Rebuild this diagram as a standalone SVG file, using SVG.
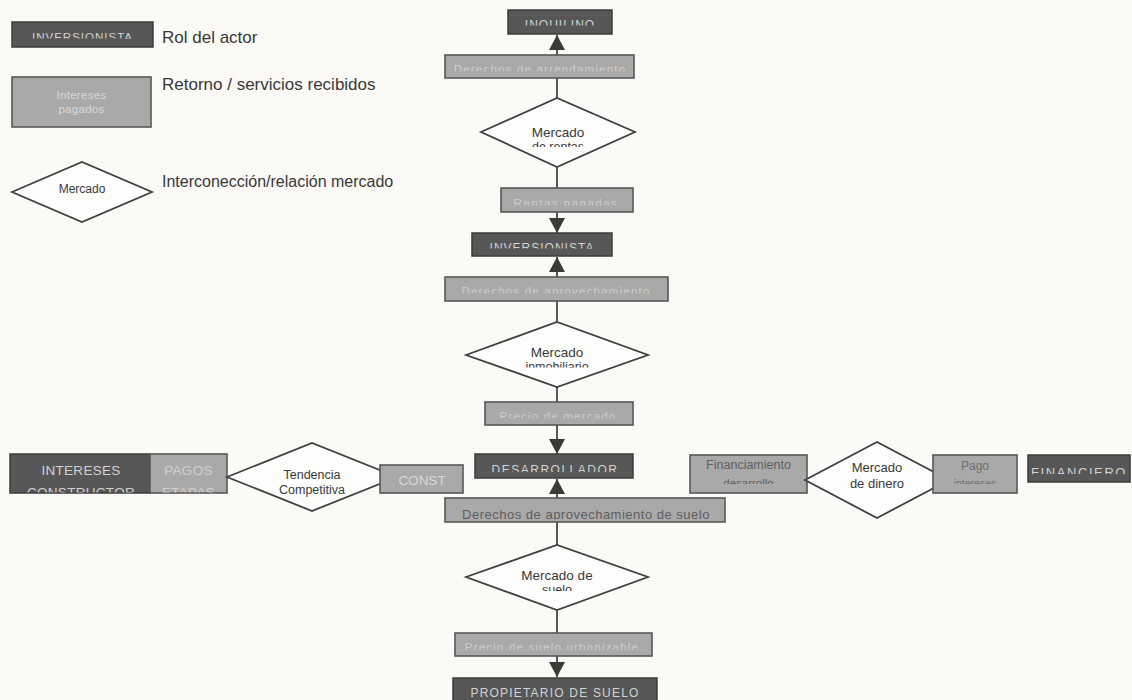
<svg xmlns="http://www.w3.org/2000/svg" width="1132" height="700" viewBox="0 0 1132 700">
<style>
.bg{fill:#fbfaf6}
.dark{fill:#575757;stroke:#3c3c3c;stroke-width:1.5}
.light{fill:#a9a9a9;stroke:#585858;stroke-width:1.6}
.mkt{fill:#fdfdfb;stroke:#404040;stroke-width:1.8}
.conn{stroke:#3a3a3a;stroke-width:1.7;fill:none}
text{font-family:"Liberation Sans",Arial,sans-serif;text-anchor:middle}
.dt{font-size:12px;fill:#d2d2d2;letter-spacing:1px}
.lt{font-size:11.5px;fill:#cdcdcd;letter-spacing:1.2px}
.gt{font-size:12.5px;fill:#606060}
.mt{font-size:13px;fill:#3a3a3a}
.leg{font-size:17px;fill:#383838;text-anchor:start}
</style>
<defs>
<marker id="ah" markerUnits="userSpaceOnUse" markerWidth="17" markerHeight="16" refX="15" refY="8" orient="auto">
<path d="M0,0 L15,8 L0,16 z" fill="#3a3a3a"/>
</marker>
<clipPath id="c-leg1"><rect x="12" y="22" width="141" height="16.5"/></clipPath>
<clipPath id="c-inq"><rect x="508" y="10" width="104" height="15.5"/></clipPath>
<clipPath id="c-darr"><rect x="445" y="55" width="189" height="16.5"/></clipPath>
<clipPath id="c-mr"><rect x="481" y="98" width="154" height="49"/></clipPath>
<clipPath id="c-rp"><rect x="501" y="188" width="132" height="17.5"/></clipPath>
<clipPath id="c-inv"><rect x="472" y="233" width="140" height="15.5"/></clipPath>
<clipPath id="c-dap"><rect x="445" y="277" width="223" height="16.5"/></clipPath>
<clipPath id="c-mi"><rect x="466" y="322" width="182" height="45.5"/></clipPath>
<clipPath id="c-pm"><rect x="485" y="402" width="148" height="16.5"/></clipPath>
<clipPath id="c-des"><rect x="475" y="454" width="158" height="18"/></clipPath>
<clipPath id="c-dsu"><rect x="445" y="498" width="280" height="21.5"/></clipPath>
<clipPath id="c-ms"><rect x="466" y="545" width="182" height="46"/></clipPath>
<clipPath id="c-ps"><rect x="455" y="633" width="197" height="17"/></clipPath>
<clipPath id="c-ic"><rect x="10" y="454" width="140" height="38.5"/></clipPath>
<clipPath id="c-pe"><rect x="150" y="454" width="77" height="38.5"/></clipPath>
<clipPath id="c-fd"><rect x="690" y="455" width="117" height="29"/></clipPath>
<clipPath id="c-pi"><rect x="933" y="455" width="84" height="29"/></clipPath>
<clipPath id="c-fin"><rect x="1028" y="455" width="102" height="19"/></clipPath>
</defs>
<rect class="bg" x="0" y="0" width="1132" height="700"/>

<g id="legend">
  <g id="legend-actor">
    <rect class="dark" x="12" y="22" width="141" height="25"/>
    <text class="dt" x="82.5" y="41" style="font-size:11.5px" clip-path="url(#c-leg1)">INVERSIONISTA</text>
    <text class="leg" x="162" y="43">Rol del actor</text>
  </g>
  <g id="legend-return">
    <rect class="light" x="12" y="77" width="139" height="50"/>
    <text class="lt" x="81.5" y="99" style="letter-spacing:0.3px;fill:#d8d8d8">Intereses</text>
    <text class="lt" x="81.5" y="113" style="letter-spacing:0.3px;fill:#d8d8d8">pagados</text>
    <text class="leg" x="162" y="90">Retorno / servicios recibidos</text>
  </g>
  <g id="legend-market">
    <polygon class="mkt" points="12,192 82,162 152,192 82,222"/>
    <text class="mt" x="82" y="193" style="font-size:12px">Mercado</text>
    <text class="leg" x="162" y="187" style="font-size:16px">Interconección/relación mercado</text>
  </g>
</g>

<g id="connectors">
  <line class="conn" x1="557" y1="55" x2="557" y2="35" marker-end="url(#ah)"/>
  <line class="conn" x1="557" y1="78" x2="557" y2="98"/>
  <line class="conn" x1="557" y1="167" x2="557" y2="188"/>
  <line class="conn" x1="557" y1="212" x2="557" y2="233" marker-end="url(#ah)"/>
  <line class="conn" x1="557" y1="277" x2="557" y2="257" marker-end="url(#ah)"/>
  <line class="conn" x1="557" y1="301" x2="557" y2="322"/>
  <line class="conn" x1="557" y1="387" x2="557" y2="402"/>
  <line class="conn" x1="557" y1="425" x2="557" y2="454" marker-end="url(#ah)"/>
  <line class="conn" x1="557" y1="498" x2="557" y2="479" marker-end="url(#ah)"/>
  <line class="conn" x1="557" y1="522" x2="557" y2="545"/>
  <line class="conn" x1="557" y1="610" x2="557" y2="633"/>
  <line class="conn" x1="557" y1="656" x2="557" y2="677" marker-end="url(#ah)"/>
</g>

<g id="inquilino">
  <rect class="dark" x="508" y="10" width="104" height="24"/>
  <text class="dt" x="560" y="29" clip-path="url(#c-inq)">INQUILINO</text>
</g>
<g id="derechos-arrendamiento">
  <rect class="light" x="445" y="55" width="189" height="23"/>
  <text class="lt" x="540" y="73" clip-path="url(#c-darr)">Derechos de arrendamiento</text>
</g>
<g id="mercado-rentas">
  <polygon class="mkt" points="481,132 557,98 635,132 557,167"/>
  <g clip-path="url(#c-mr)">
    <text class="mt" x="558" y="137" style="font-size:13.5px">Mercado</text>
    <text class="mt" x="558" y="151" style="font-size:12.5px">de rentas</text>
  </g>
</g>
<g id="rentas-pagadas">
  <rect class="light" x="501" y="188" width="132" height="24"/>
  <text class="lt" x="566" y="207" style="letter-spacing:1.5px" clip-path="url(#c-rp)">Rentas pagadas</text>
</g>
<g id="inversionista">
  <rect class="dark" x="472" y="233" width="140" height="23"/>
  <text class="dt" x="542" y="252" clip-path="url(#c-inv)">INVERSIONISTA</text>
</g>
<g id="derechos-aprovechamiento">
  <rect class="light" x="445" y="277" width="223" height="24"/>
  <text class="lt" x="556" y="295" clip-path="url(#c-dap)">Derechos de aprovechamiento</text>
</g>
<g id="mercado-inmobiliario">
  <polygon class="mkt" points="466,355 557,322 648,355 557,387"/>
  <g clip-path="url(#c-mi)">
    <text class="mt" x="557" y="357" style="font-size:13.5px">Mercado</text>
    <text class="mt" x="557" y="371" style="font-size:12.5px">inmobiliario</text>
  </g>
</g>
<g id="precio-mercado">
  <rect class="light" x="485" y="402" width="148" height="23"/>
  <text class="lt" x="558" y="420" clip-path="url(#c-pm)">Precio de mercado</text>
</g>
<g id="desarrollador">
  <rect class="dark" x="475" y="454" width="158" height="24"/>
  <text class="dt" x="555" y="474" style="letter-spacing:1.5px" clip-path="url(#c-des)">DESARROLLADOR</text>
</g>
<g id="derechos-suelo">
  <rect class="light" x="445" y="498" width="280" height="24"/>
  <text class="gt" x="586" y="519" style="font-size:13px;letter-spacing:0.5px;fill:#5e5e5e" clip-path="url(#c-dsu)">Derechos de aprovechamiento de suelo</text>
</g>
<g id="mercado-suelo">
  <polygon class="mkt" points="466,577 557,545 648,577 557,610"/>
  <g clip-path="url(#c-ms)">
    <text class="mt" x="557" y="580" style="font-size:13.5px">Mercado de</text>
    <text class="mt" x="557" y="594" style="font-size:12.5px">suelo</text>
  </g>
</g>
<g id="precio-suelo">
  <rect class="light" x="455" y="633" width="197" height="23"/>
  <text class="lt" x="552" y="651" clip-path="url(#c-ps)">Precio de suelo urbanizable</text>
</g>
<g id="propietario-suelo">
  <rect class="dark" x="453" y="678" width="204" height="26"/>
  <text class="dt" x="555" y="697" style="letter-spacing:1.2px">PROPIETARIO DE SUELO</text>
</g>

<g id="intereses-constructor">
  <rect class="dark" x="10" y="454" width="140" height="39"/>
  <g clip-path="url(#c-ic)">
    <text class="dt" x="81" y="475" style="font-size:13.5px;letter-spacing:0.3px">INTERESES</text>
    <text class="dt" x="81" y="497" style="font-size:13.5px;letter-spacing:0.3px">CONSTRUCTOR</text>
  </g>
</g>
<g id="pagos-etapas">
  <rect class="light" x="150" y="454" width="77" height="39"/>
  <g clip-path="url(#c-pe)">
    <text class="lt" x="188.5" y="475" style="font-size:13.5px;letter-spacing:0.3px;fill:#cfcfcf">PAGOS</text>
    <text class="lt" x="188.5" y="497" style="font-size:13.5px;letter-spacing:0.3px;fill:#cfcfcf">ETAPAS</text>
  </g>
</g>
<g id="tendencia-competitiva">
  <polygon class="mkt" points="227,477 312,443 397,477 312,511"/>
  <text class="mt" x="312" y="479" style="font-size:12.5px">Tendencia</text>
  <text class="mt" x="312" y="494" style="font-size:12.5px">Competitiva</text>
</g>
<g id="const">
  <rect class="light" x="380" y="465" width="83" height="28"/>
  <text class="lt" x="422" y="485" style="font-size:13.5px;letter-spacing:0px;fill:#d8d8d8">CONST</text>
</g>

<g id="financiamiento-desarrollo">
  <rect class="light" x="690" y="455" width="117" height="38"/>
  <g clip-path="url(#c-fd)">
    <text class="gt" x="748.5" y="469">Financiamiento</text>
    <text class="gt" x="748.5" y="487" style="font-size:11.5px">desarrollo</text>
  </g>
</g>
<g id="mercado-dinero">
  <polygon class="mkt" points="805,480 877,442 949,480 877,518"/>
  <text class="mt" x="877" y="472">Mercado</text>
  <text class="mt" x="877" y="488">de dinero</text>
</g>
<g id="pago-intereses">
  <rect class="light" x="933" y="455" width="84" height="38"/>
  <g clip-path="url(#c-pi)">
    <text class="gt" x="975" y="470" style="font-size:12px;fill:#6e6e6e">Pago</text>
    <text class="gt" x="975" y="487" style="font-size:10.5px;fill:#6e6e6e">intereses</text>
  </g>
</g>
<g id="financiero">
  <rect class="dark" x="1028" y="455" width="102" height="27"/>
  <text class="dt" x="1079" y="477" style="font-size:13px;letter-spacing:1.6px" clip-path="url(#c-fin)">FINANCIERO</text>
</g>
</svg>
